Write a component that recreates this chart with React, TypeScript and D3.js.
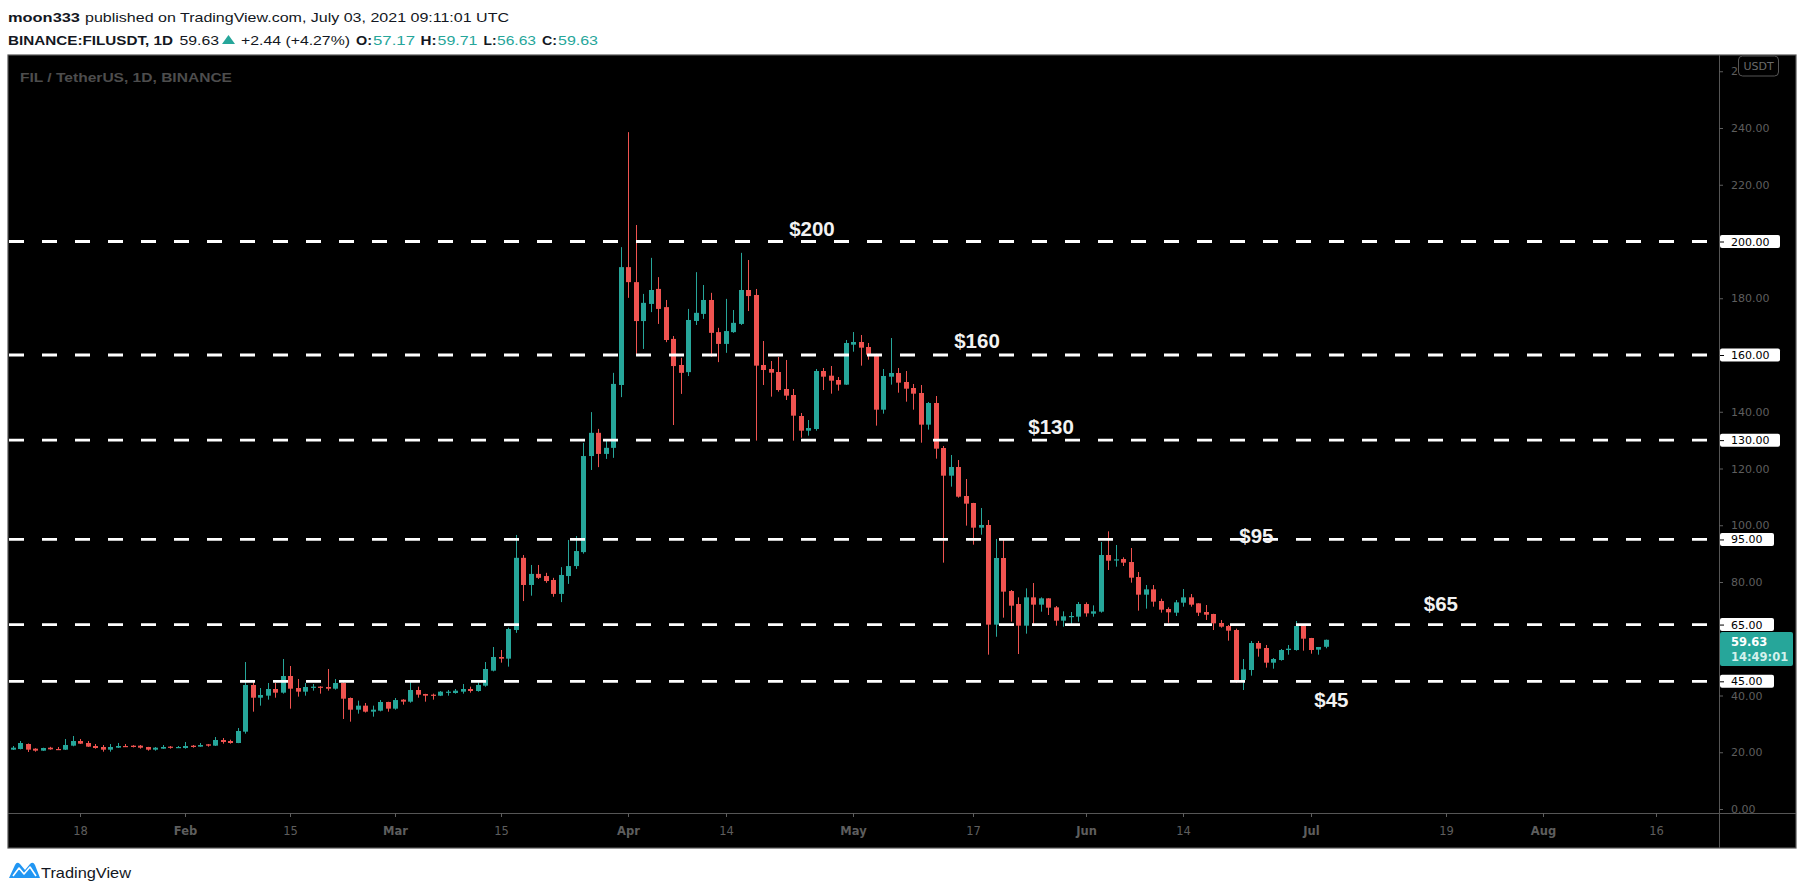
import React, { useEffect } from 'react';
import * as d3 from 'd3';

// ---------- DATA ----------
const firstDay = '2021-01-09';

// Daily OHLC, FIL/USDT, Jan 9 – Jul 3 2021
const opens = [
  // Jan 9-31
  20.91, 21.15, 22.91, 21.26, 20.56, 21.61, 21.15, 20.91, 22.32, 23.96, 23.26, 22.2, 21.85, 20.91, 21.61, 22.2, 22.32, 22.32, 21.85, 20.91, 21.26, 21.97, 21.61,
  // Feb
  21.5, 22.32, 21.97, 22.79, 22.32, 24.32, 23.96, 23.26, 27.25, 43.7, 39.23, 39.94, 42.29, 41.0, 46.87, 42.64, 41.35, 42.88, 43.11, 43.0, 42.4, 44.4, 39.12, 35.0, 36.42, 34.3, 34.65, 37.71,
  // Mar
  35.36, 38.53, 37.83, 41.94, 40.53, 40.29, 39.94, 41.0, 40.88, 41.35, 42.29, 41.58, 43.46, 48.75, 53.57, 52.98, 63.09, 88.52, 78.95, 82.85, 82.1, 80.71, 75.8, 82.1, 85.62, 90.53, 124.39, 132.57, 125.14, 127.28, 149.43,
  // Apr
  190.97, 185.68, 171.96, 178.0, 183.29, 176.87, 165.67, 156.48, 153.96, 172.0, 174.48, 179.39, 168.06, 163.91, 168.06, 170.95, 182.91, 181.15, 156.48, 155.07, 154.01, 148.02, 145.9, 138.5, 133.33, 133.92, 154.36, 152.71, 151.19, 149.55,
  // May
  163.64, 164.58, 162.82, 160.35, 140.73, 152.36, 153.66, 150.49, 148.37, 146.61, 135.45, 143.08, 127.22, 117.47, 120.53, 110.31, 107.84, 99.15, 100.09, 64.97, 88.46, 76.82, 72.24, 64.61, 74.59, 72.01, 74.24, 71.07, 66.37, 67.78, 67.78,
  // Jun
  72.24, 68.84, 69.54, 89.51, 87.63, 88.1, 87.04, 81.76, 75.53, 77.41, 73.3, 70.48, 69.19, 72.71, 74.59, 72.48, 69.42, 68.72, 65.55, 64.49, 63.08, 45.46, 48.99, 58.5, 56.74, 51.57, 52.51, 56.03, 56.03, 64.49,
  // Jul 1-3
  60.26, 56.15, 57.17,
];
const highs = [
  22.2, 23.96, 23.1, 21.4, 21.6, 21.9, 21.85, 24.67, 25.73, 24.67, 23.96, 22.9, 22.55, 22.9, 23.26, 22.9, 22.5, 22.55, 21.9, 21.85, 22.55, 22.2, 22.2,
  23.61, 22.55, 23.26, 22.91, 25.37, 25.02, 24.43, 28.55, 51.8, 45.46, 42.64, 44.4, 44.4, 52.86, 50.4, 45.8, 44.4, 44.05, 43.3, 49.34, 45.8, 44.6, 39.3, 38.18, 37.36, 36.42, 38.4, 37.8,
  39.12, 38.7, 44.76, 43.11, 40.6, 40.65, 41.58, 41.94, 42.29, 44.05, 43.11, 44.64, 51.8, 57.09, 56.03, 63.9, 96.57, 89.52, 86.0, 86.0, 83.23, 81.47, 85.24, 94.81, 96.19, 129.04, 139.87, 133.95, 129.8, 153.71, 198.01,
  238.54, 205.82, 181.53, 194.24, 187.44, 179.39, 166.68, 159.0, 176.24, 189.2, 184.67, 181.91, 169.57, 179.77, 175.86, 196.0, 193.48, 183.27, 164.93, 157.88, 159.29, 158.24, 148.02, 139.56, 137.09, 155.07, 155.42, 156.12, 152.25, 165.29,
  168.1, 167.05, 164.23, 160.4, 155.07, 165.99, 155.42, 154.36, 149.78, 149.43, 143.44, 145.55, 127.93, 124.76, 122.99, 116.3, 107.9, 106.08, 101.85, 95.16, 94.8, 77.18, 74.59, 77.76, 79.64, 74.59, 74.3, 71.54, 69.66, 69.42, 72.95,
  72.83, 71.77, 94.09, 97.85, 93.04, 88.69, 91.98, 83.52, 78.94, 78.94, 74.12, 71.07, 73.65, 77.53, 75.77, 72.5, 71.89, 68.8, 66.61, 64.84, 63.55, 52.86, 59.21, 59.21, 57.8, 53.21, 56.39, 57.8, 66.25, 65.08,
  60.3, 57.1, 59.71,
];
const lows = [
  20.79, 21.0, 20.09, 20.2, 20.5, 20.9, 20.8, 20.8, 22.1, 22.9, 21.9, 21.26, 20.2, 20.2, 21.5, 21.9, 21.7, 21.26, 20.56, 20.56, 21.2, 21.26, 21.5,
  21.26, 21.61, 21.9, 21.97, 22.2, 23.02, 23.02, 23.2, 26.55, 34.3, 36.42, 38.53, 39.23, 40.65, 35.36, 39.59, 39.94, 41.7, 40.65, 41.7, 42.05, 31.72, 30.78, 33.6, 34.0, 32.54, 34.4, 34.3,
  35.0, 36.77, 37.47, 39.23, 37.83, 38.53, 39.8, 39.94, 40.65, 40.65, 41.0, 41.35, 43.1, 48.5, 51.57, 50.16, 62.08, 73.28, 75.17, 81.09, 79.71, 74.8, 72.91, 79.33, 84.61, 90.0, 119.48, 120.48, 123.38, 123.76, 145.15,
  180.14, 160.38, 162.14, 175.11, 170.95, 164.53, 135.33, 146.29, 152.58, 170.58, 172.72, 159.37, 157.49, 160.76, 167.8, 170.6, 175.49, 129.82, 149.43, 145.32, 147.08, 144.14, 129.81, 130.87, 131.57, 133.33, 147.66, 146.37, 147.43, 149.43,
  161.17, 156.24, 158.35, 135.1, 139.32, 149.55, 146.72, 143.55, 140.73, 129.1, 133.69, 123.46, 86.82, 113.6, 109.72, 99.86, 93.16, 96.68, 54.39, 60.7, 67.43, 66.02, 54.62, 61.79, 64.84, 69.54, 68.37, 64.61, 64.26, 64.84, 66.02,
  67.78, 67.78, 69.19, 84.23, 85.4, 85.64, 79.76, 69.9, 70.6, 71.3, 69.19, 65.66, 68.02, 71.3, 71.3, 68.02, 66.61, 63.08, 63.9, 59.32, 44.52, 41.94, 46.99, 53.68, 49.81, 49.45, 52.27, 54.39, 55.8, 55.8,
  54.74, 54.39, 56.63,
];
const closes = [
  21.61, 23.26, 20.91, 20.56, 21.5, 21.03, 20.91, 22.55, 23.96, 23.02, 21.97, 21.5, 20.91, 21.85, 22.2, 21.97, 21.85, 21.61, 20.91, 21.61, 21.85, 21.61, 21.85,
  22.2, 21.85, 22.55, 22.32, 24.32, 23.61, 23.26, 27.49, 43.7, 39.23, 40.18, 42.29, 41.0, 46.87, 42.4, 41.35, 43.0, 43.11, 42.88, 42.4, 44.4, 38.88, 35.0, 36.42, 34.3, 35.0, 37.71, 35.36,
  38.4, 37.83, 41.94, 40.29, 39.94, 40.06, 41.35, 41.35, 41.7, 42.29, 41.58, 43.7, 49.34, 53.57, 52.98, 63.43, 88.52, 78.95, 82.85, 81.47, 80.34, 75.8, 82.48, 85.62, 90.91, 124.39, 132.57, 125.14, 127.28, 149.81, 190.97,
  185.68, 171.96, 178.38, 182.91, 176.24, 165.29, 156.1, 153.71, 172.34, 174.86, 179.39, 167.81, 163.91, 168.44, 171.33, 182.91, 180.77, 156.25, 154.71, 153.77, 147.66, 145.67, 138.62, 133.33, 134.27, 154.36, 152.36, 150.95, 149.55, 164.23,
  164.58, 162.58, 160.12, 140.73, 152.6, 153.66, 150.25, 148.13, 146.37, 135.45, 143.08, 126.99, 117.47, 120.53, 110.07, 107.61, 99.15, 100.09, 64.97, 88.46, 76.6, 71.66, 64.61, 74.59, 72.01, 74.24, 70.95, 66.37, 67.9, 68.02, 72.24,
  68.95, 69.66, 89.51, 87.51, 87.98, 86.81, 81.52, 75.53, 77.41, 73.07, 70.25, 69.31, 72.83, 74.59, 72.01, 69.19, 68.48, 65.43, 64.26, 62.85, 45.46, 49.22, 58.5, 56.5, 51.57, 52.86, 56.03, 56.5, 64.49, 60.03,
  56.03, 57.09, 59.63,
];

const yTicks = [0, 20, 40, 60, 80, 100, 120, 140, 160, 180, 200, 220, 240, 260];
const yTickHidden = [60]; // covered by the live-price label
const xTickDates = ['2021-01-18', '2021-02-01', '2021-02-15', '2021-03-01', '2021-03-15', '2021-04-01', '2021-04-14', '2021-05-01', '2021-05-17', '2021-06-01', '2021-06-14', '2021-07-01', '2021-07-19', '2021-08-01', '2021-08-16'];
const xTickLabels = ['18', 'Feb', '15', 'Mar', '15', 'Apr', '14', 'May', '17', 'Jun', '14', 'Jul', '19', 'Aug', '16'];

const levels = [200, 160, 130, 95, 65, 45];
const levelTexts = ['$200', '$160', '$130', '$95', '$65', '$45'];
const levelLabelDates = ['2021-04-22T11:30Z', '2021-05-14T11:30Z', '2021-05-24T08:30Z', '2021-06-21T11:30Z', '2021-07-16T01:40Z', '2021-07-01T11:30Z'];
const levelLabelPrices = [202.1, 162.6, 132.2, 93.6, 69.9, 36.1];

const lastPrice = 59.63;
const countdown = '14:49:01';

const GREEN = '#26a69a';
const RED = '#ef5350';

export default function App() {
  useEffect(() => {
    document.body.style.margin = '0';
  }, []);

  const W = 1805, H = 895;
  const left = 8, right = 1796, top = 55, bottom = 848, axisX = 1719, axisY = 813;

  const x = d3.scaleUtc()
    .domain([new Date('2021-01-18T00:00Z'), new Date('2021-07-01T00:00Z')])
    .range([80.4, 1310.7]);
  const y = d3.scaleLinear().domain([0, 240]).range([809, 128]);

  const start = new Date(firstDay + 'T00:00Z');
  const days = opens.map((_, i) => d3.utcDay.offset(start, i));

  const axisFont = "'DejaVu Sans', sans-serif";
  const hdrFont = "'Liberation Sans', Arial, sans-serif";

  return (
    <svg width={W} height={H} style={{ position: 'absolute', left: 0, top: 0, background: '#fff' }}>
      <defs>
        <clipPath id="plot"><rect x={left} y={top} width={axisX - left} height={axisY - top} /></clipPath>
        <clipPath id="yax"><rect x={axisX} y={top} width={right - axisX} height={axisY - top} /></clipPath>
      </defs>
      <rect x={0} y={0} width={W} height={H} fill="#fff" />

      {/* header */}
      <g fontFamily={hdrFont} fontSize={13.5} fill="#131722">
        <text x={8} y={21.5} fontWeight="bold" textLength={72} lengthAdjust="spacingAndGlyphs">moon333</text>
        <text x={85} y={21.5} textLength={424} lengthAdjust="spacingAndGlyphs">published on TradingView.com, July 03, 2021 09:11:01 UTC</text>
        <text x={8} y={45} fontWeight="bold" textLength={165} lengthAdjust="spacingAndGlyphs">BINANCE:FILUSDT, 1D</text>
        <text x={179.5} y={45} textLength={39.5} lengthAdjust="spacingAndGlyphs">59.63</text>
        <polygon points="222,44 235,44 228.5,35" fill={GREEN} />
        <text x={241} y={45} textLength={109} lengthAdjust="spacingAndGlyphs">+2.44 (+4.27%)</text>
        <text x={356} y={45} fontWeight="bold" textLength={16} lengthAdjust="spacingAndGlyphs">O:</text>
        <text x={373} y={45} fill={GREEN} textLength={42} lengthAdjust="spacingAndGlyphs">57.17</text>
        <text x={420.5} y={45} fontWeight="bold" textLength={16} lengthAdjust="spacingAndGlyphs">H:</text>
        <text x={437.5} y={45} fill={GREEN} textLength={40} lengthAdjust="spacingAndGlyphs">59.71</text>
        <text x={483.5} y={45} fontWeight="bold" textLength={13} lengthAdjust="spacingAndGlyphs">L:</text>
        <text x={497} y={45} fill={GREEN} textLength={39} lengthAdjust="spacingAndGlyphs">56.63</text>
        <text x={542} y={45} fontWeight="bold" textLength={15} lengthAdjust="spacingAndGlyphs">C:</text>
        <text x={558} y={45} fill={GREEN} textLength={40} lengthAdjust="spacingAndGlyphs">59.63</text>
      </g>

      {/* chart background */}
      <rect x={left} y={top} width={right - left} height={bottom - top} fill="#000" stroke="#555" strokeWidth={1.2} />

      <text x={20} y={81.5} fontFamily={hdrFont} fontSize={13.5} fontWeight="bold" fill="#4d4d4d" textLength={212} lengthAdjust="spacingAndGlyphs">FIL / TetherUS, 1D, BINANCE</text>

      {/* candles */}
      <g clipPath="url(#plot)">
        {opens.map((o, i) => {
          const c = closes[i];
          const col = c >= o ? GREEN : RED;
          const cx = Math.round(x(days[i]));
          const yt = y(Math.max(o, c));
          const yb = y(Math.min(o, c));
          return (
            <g key={i}>
              <line x1={cx + 0.5} x2={cx + 0.5} y1={y(highs[i])} y2={y(lows[i])} stroke={col} strokeWidth={1} />
              <rect x={cx - 2} y={yt} width={5} height={Math.max(1.2, yb - yt)} fill={col} />
            </g>
          );
        })}
      </g>

      {/* dashed levels */}
      <g clipPath="url(#plot)">
        {levels.map((lv) => (
          <line key={lv} x1={9} x2={axisX} y1={y(lv)} y2={y(lv)} stroke="#fff" strokeWidth={2.8} strokeDasharray="15 18" />
        ))}
      </g>

      {/* level annotations */}
      <g fontFamily="'Liberation Sans', Arial, sans-serif" fontWeight="bold" fontSize={20.5} fill="#f2f2f2">
        {levelTexts.map((t, i) => (
          <text key={t} x={x(new Date(levelLabelDates[i]))} y={y(levelLabelPrices[i])}>{t}</text>
        ))}
      </g>

      {/* axes lines */}
      <line x1={axisX + 0.5} x2={axisX + 0.5} y1={top} y2={bottom} stroke="#555" />
      <line x1={left} x2={right} y1={axisY + 0.5} y2={axisY + 0.5} stroke="#555" />

      {/* y axis labels */}
      <g clipPath="url(#yax)" fontFamily={axisFont} fontSize={11} fill="#5e5e5e">
        {yTicks.filter((v) => !yTickHidden.includes(v)).map((v) => (
          <g key={v}>
            <line x1={axisX} x2={axisX + 4} y1={y(v) + 0.5} y2={y(v) + 0.5} stroke="#5e5e5e" />
            <text x={1731} y={y(v) + 4}>{v.toFixed(2)}</text>
          </g>
        ))}
      </g>

      {/* USDT box */}
      <rect x={1738.5} y={56} width={40} height={20} rx={4} fill="#000" stroke="#555" />
      <text x={1758.5} y={70} textAnchor="middle" fontFamily={axisFont} fontSize={11} fill="#6a6a6a">USDT</text>

      {/* level price boxes */}
      <g fontFamily={axisFont} fontSize={11}>
        {levels.map((lv) => {
          const s = lv.toFixed(2);
          const w = s.length >= 6 ? 60 : 54;
          const yy = y(lv);
          return (
            <g key={lv}>
              <rect x={axisX + 1} y={yy - 6.5} width={w} height={13} rx={2} fill="#fff" />
              <line x1={axisX + 1} x2={axisX + 5} y1={yy + 0.5} y2={yy + 0.5} stroke="#000" />
              <text x={1731} y={yy + 4} fill="#000">{s}</text>
            </g>
          );
        })}
      </g>

      {/* last price box */}
      <rect x={axisX + 1} y={632} width={73} height={34} rx={2} fill={GREEN} />
      <text x={1731} y={646} fontFamily={axisFont} fontSize={11.5} fontWeight="bold" fill="#fff">{lastPrice.toFixed(2)}</text>
      <text x={1731} y={661} fontFamily={axisFont} fontSize={11.5} fontWeight="bold" fill="#d3f1ec">{countdown}</text>

      {/* x axis labels */}
      <g fontFamily={axisFont} fontSize={11.5} fill="#5e5e5e" textAnchor="middle">
        {xTickDates.map((d, i) => {
          const xx = Math.round(x(new Date(d + 'T00:00Z'))) + 0.5;
          const month = isNaN(Number(xTickLabels[i]));
          return (
            <g key={d}>
              <line x1={xx} x2={xx} y1={axisY} y2={axisY + 4} stroke="#5e5e5e" />
              <text x={xx} y={835} fontWeight={month ? 'bold' : 'normal'}>{xTickLabels[i]}</text>
            </g>
          );
        })}
      </g>

      {/* TradingView logo */}
      <g>
        <path d="M9,878 L15,865 Q17,861 20,864 L25,870 L30,864 Q33,861 35,865 L40,878 Z" fill="#2196f3" />
        <path d="M13,876 L19,868 L24,874 L30,867 L36,876" fill="none" stroke="#fff" strokeWidth={1.6} strokeLinejoin="round" />
        <text x={41} y={878} fontFamily={hdrFont} fontSize={14.5} fill="#131722" textLength={90} lengthAdjust="spacingAndGlyphs">TradingView</text>
      </g>
    </svg>
  );
}
